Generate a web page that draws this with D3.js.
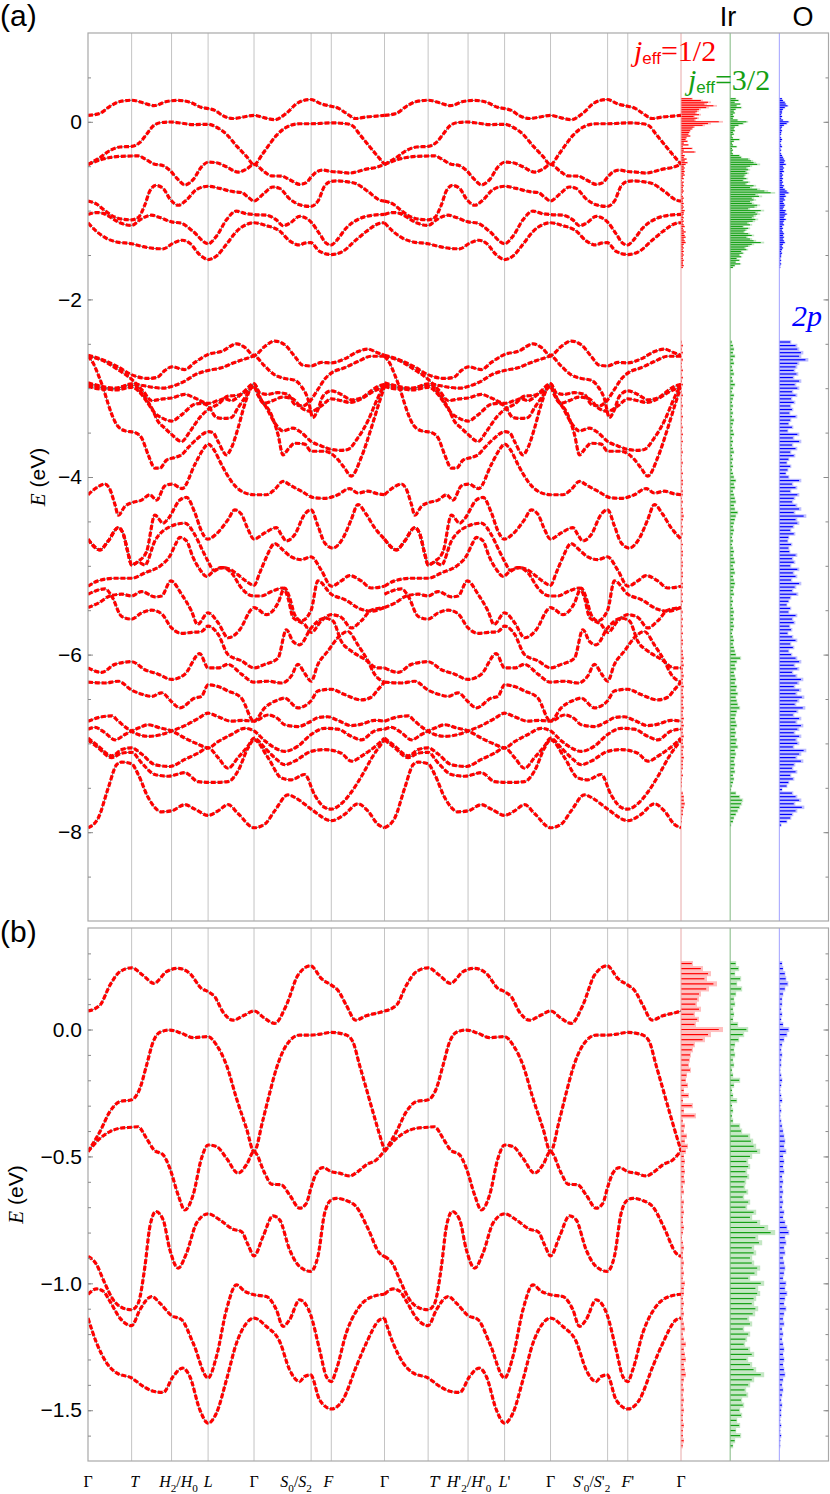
<!DOCTYPE html>
<html>
<head>
<meta charset="utf-8">
<script src="https://cdn.jsdelivr.net/npm/d3@7/dist/d3.min.js"></script>
<style>
  body { margin: 0; background: #fff; }
</style>
</head>
<body>
<script>
// k path Γ-T-H2/H0-L-Γ-S0/S2-F-Γ ; the primed half repeats the same bands
const halfPath = 297
const kPoints = [0, 43.7, 83.7, 120.3, 166.3, 223.5, 243.7, 297, 340.7, 380.7, 417.3, 463.3, 520.5, 540.7, 594]
const kLabels = [
  [['Γ', 'u']],
  [['T', 'i']],
  [['H', 'i'], ['2', 's'], ['/', 'u'], ['H', 'i'], ['0', 's']],
  [['L', 'i']],
  [['Γ', 'u']],
  [['S', 'i'], ['0', 's'], ['/', 'u'], ['S', 'i'], ['2', 's']],
  [['F', 'i']],
  [['Γ', 'u']],
  [['T', 'i'], ["'", 'u']],
  [['H', 'i'], ["'", 'u'], ['2', 's'], ['/', 'u'], ['H', 'i'], ["'", 'u'], ['0', 's']],
  [['L', 'i'], ["'", 'u']],
  [['Γ', 'u']],
  [['S', 'i'], ["'", 'u'], ['0', 's'], ['/', 'u'], ['S', 'i'], ["'", 'u'], ['2', 's']],
  [['F', 'i'], ["'", 'u']],
  [['Γ', 'u']]
]

// Ir t2g bands (first half of the path, k, E in eV)
const t2g1 = [[0,0.073],[12,0.096],[22,0.175],[32,0.228],[43.7,0.243],[55,0.214],[66,0.182],[78.7,0.228],[90,0.241],[102,0.221],[113.7,0.162],[120.3,0.149],[127,0.129],[135,0.070],[145,0.037],[157,0.057],[166.3,0.073],[177,0.044],[187,0.024],[198.7,0.096],[210.3,0.214],[223,0.251],[233.7,0.201],[243.7,0.175],[250.3,0.155],[258.7,0.096],[268,0.037],[278.7,0.054],[292,0.067],[297,0.073]]
const t2g2 = [[0,-0.481],[12,-0.402],[22,-0.323],[32,-0.284],[43.7,-0.277],[52,-0.232],[58.7,-0.14],[65.3,-0.048],[72,-0.011],[82,-0.002],[93.7,-0.015],[105.3,-0.032],[120.3,-0.028],[128.7,-0.061],[138.7,-0.14],[148.7,-0.271],[158.7,-0.389],[166.3,-0.481],[175,-0.36],[182,-0.25],[189,-0.15],[199,-0.06],[212,-0.022],[223,-0.022],[233,-0.018],[243.7,-0.011],[258.7,-0.022],[265.3,-0.048],[272,-0.14],[278.7,-0.232],[288,-0.36],[297,-0.478]]
const t2g3 = [[0,-0.481],[12,-0.429],[22,-0.402],[32,-0.389],[43.7,-0.385],[50,-0.383],[58.7,-0.429],[66,-0.474],[75.3,-0.494],[82,-0.547],[90.3,-0.652],[97,-0.711],[105.3,-0.652],[113.7,-0.507],[120.3,-0.455],[128.7,-0.461],[138.7,-0.507],[150.3,-0.566],[158.7,-0.533],[166.3,-0.481],[177,-0.566],[183.7,-0.609],[193.7,-0.612],[202,-0.652],[212,-0.704],[218.7,-0.685],[223.7,-0.619],[228.7,-0.566],[235.3,-0.544],[243.7,-0.56],[252,-0.566],[262,-0.577],[270.3,-0.56],[278.7,-0.533],[288.7,-0.514],[297,-0.478]]
const t2g4 = [[0,-0.894],[8.7,-0.927],[15.3,-0.986],[25.3,-1.065],[35.3,-1.098],[43.7,-1.104],[50.3,-1.078],[57,-0.934],[62,-0.776],[68,-0.717],[75.3,-0.75],[82,-0.868],[90.3,-0.94],[98.7,-0.881],[108.7,-0.763],[120.3,-0.726],[132,-0.75],[145.3,-0.787],[153.7,-0.796],[160.3,-0.848],[166.3,-0.892],[175.3,-0.816],[185.3,-0.734],[192,-0.75],[202,-0.868],[212,-0.934],[223,-0.953],[230.3,-0.894],[237,-0.724],[243.7,-0.671],[248.7,-0.665],[258.7,-0.674],[268.7,-0.698],[280.3,-0.783],[292,-0.881],[297,-0.894]]
const t2g5 = [[0,-1.043],[8.7,-1.022],[15.3,-1.031],[22,-1.071],[32,-1.137],[43.7,-1.167],[52,-1.104],[63.7,-1.052],[72,-1.078],[83.7,-1.127],[93.7,-1.143],[105.3,-1.235],[120.3,-1.373],[128.7,-1.288],[138.7,-1.104],[148.7,-1.006],[157,-1.031],[166.3,-1.045],[178.7,-1.052],[188.7,-1.104],[195.3,-1.170],[202,-1.143],[212,-1.065],[223,-1.124],[232,-1.262],[238.7,-1.367],[243.7,-1.387],[248.7,-1.341],[258.7,-1.196],[272,-1.091],[285.3,-1.052],[297,-1.043]]
const t2g6 = [[0,-1.137],[8.7,-1.236],[18.7,-1.314],[28.7,-1.353],[43.7,-1.373],[55.3,-1.406],[65.3,-1.425],[75.3,-1.43],[85.3,-1.367],[94.7,-1.334],[102,-1.367],[112,-1.498],[120.3,-1.551],[128.7,-1.511],[138.7,-1.38],[148.7,-1.236],[158.7,-1.157],[166.3,-1.137],[178.7,-1.17],[192,-1.229],[202,-1.341],[212,-1.387],[217,-1.367],[223,-1.361],[232,-1.459],[243.7,-1.495],[255.3,-1.459],[268.7,-1.328],[278.7,-1.236],[292,-1.144],[297,-1.137]]
const t2gBands = [t2g1, t2g2, t2g3, t2g4, t2g5, t2g6]

// O 2p bands (first half of the path)
const o2pBands = [
  [[0,-2.63],[17,-2.69],[30,-2.76],[44,-2.85],[60,-2.89],[69,-2.88],[77,-2.80],[84,-2.76],[97,-2.79],[107,-2.71],[120.3,-2.62],[134,-2.585],[149,-2.50],[157,-2.54],[166.3,-2.63],[177,-2.53],[187,-2.47],[197,-2.51],[207,-2.64],[215,-2.74],[223.5,-2.75],[234,-2.71],[243.7,-2.715],[257,-2.67],[270,-2.59],[280,-2.56],[290,-2.60],[297,-2.63]],
  [[0,-2.64],[5.3,-2.72],[10.3,-2.85],[15.3,-3.0],[20.3,-3.18],[24,-3.3],[28.7,-3.41],[37,-3.48],[47,-3.50],[53.7,-3.56],[60.3,-3.75],[67,-3.90],[72,-3.90],[78.7,-3.81],[87,-3.78],[93.7,-3.75],[100.3,-3.67],[110.3,-3.56],[120.3,-3.49],[125.3,-3.50],[130.3,-3.60],[138.7,-3.75],[143.7,-3.67],[150.3,-3.45],[157,-3.18],[166.3,-2.95],[173,-3.12],[183.7,-3.30],[190.3,-3.52],[195.3,-3.75],[201,-3.68],[207,-3.62],[217,-3.63],[223.5,-3.71],[237,-3.71],[250,-3.80],[257,-3.90],[263.7,-3.99],[273.7,-3.78],[283.7,-3.45],[292,-3.15],[297,-2.98]],
  [[0,-2.94],[10.3,-2.97],[27,-3.00],[40.3,-2.97],[47,-2.97],[52,-3.03],[58.7,-3.13],[63.7,-3.22],[70,-3.37],[77,-3.45],[83.7,-3.52],[93.7,-3.60],[102,-3.49],[112,-3.33],[120.3,-3.24],[130.3,-3.18],[140.3,-3.09],[150,-3.08],[158,-3.04],[166.3,-2.98],[170.3,-3.07],[178.7,-3.22],[187,-3.39],[195.3,-3.48],[205.3,-3.45],[213.7,-3.50],[223.5,-3.60],[233.7,-3.65],[243.7,-3.69],[253.7,-3.70],[260.3,-3.69],[270.3,-3.56],[280.3,-3.37],[288.7,-3.15],[297,-2.95]],
  [[0,-2.98],[13.7,-3.01],[30.3,-3.00],[43.7,-2.95],[55,-2.97],[65,-2.99],[75,-3.0],[83.7,-2.98],[97,-2.92],[107,-2.85],[120.3,-2.80],[133.7,-2.77],[147,-2.71],[160.3,-2.66],[166.3,-2.64],[177,-2.75],[187,-2.85],[197,-2.89],[207,-2.91],[213.7,-2.98],[220.3,-3.12],[225.3,-3.33],[230,-3.25],[235.3,-3.09],[243.7,-3.03],[253.7,-3.07],[263.7,-3.13],[273.7,-3.11],[283.7,-3.03],[290.3,-2.98],[297,-2.96]],
  [[0,-2.64],[17,-2.70],[30,-2.79],[43.7,-2.90],[55,-3.03],[64,-3.14],[75,-3.12],[83.7,-3.11],[97,-3.07],[107,-3.11],[120.3,-3.17],[130.3,-3.14],[137,-3.12],[143.7,-3.14],[150.3,-3.10],[157,-3.03],[166.3,-2.95],[172,-3.05],[180,-3.07],[190,-3.05],[200.3,-3.07],[207,-3.18],[215,-3.20],[222,-3.15],[230,-3.02],[237,-2.90],[243.7,-2.83],[257,-2.77],[270.3,-2.70],[283.7,-2.64],[297,-2.64]],
  [[0,-2.96],[12,-2.99],[28,-3.02],[43.7,-2.99],[53.7,-3.07],[60,-3.17],[67,-3.28],[75,-3.34],[83.7,-3.37],[93.7,-3.30],[107,-3.18],[113.7,-3.17],[120.3,-3.20],[128.7,-3.33],[137,-3.34],[143.7,-3.33],[150.3,-3.22],[157,-3.11],[166.3,-2.98],[170,-3.07],[176,-3.17],[185,-3.14],[195,-3.10],[205,-3.12],[213.7,-3.22],[223.5,-3.26],[233.7,-3.20],[243.7,-3.12],[253.7,-3.14],[262,-3.16],[273.7,-3.12],[283.7,-3.05],[297,-2.98]],
  [[0,-4.20],[8.7,-4.12],[17,-4.08],[22,-4.14],[27,-4.31],[30.3,-4.43],[37,-4.33],[43.7,-4.29],[53.7,-4.26],[62,-4.20],[68.7,-4.26],[77,-4.10],[84.3,-4.08],[94.3,-4.13],[107,-3.86],[115.3,-3.69],[120.3,-3.63],[127,-3.71],[133.7,-3.86],[143.7,-4.05],[153.7,-4.16],[166.3,-4.20],[178.7,-4.20],[187,-4.14],[195.3,-4.05],[203.7,-4.10],[213.7,-4.16],[227,-4.235],[237,-4.24],[250.3,-4.20],[262,-4.13],[270.3,-4.18],[280.3,-4.16],[290.3,-4.19],[297,-4.20]],
  [[0,-4.70],[12,-4.82],[20.3,-4.72],[30.3,-4.57],[35.3,-4.64],[40,-4.85],[43.7,-4.99],[50.3,-4.95],[58.7,-4.84],[67,-4.43],[75.3,-4.52],[80.3,-4.47],[92,-4.26],[98.7,-4.23],[107,-4.40],[113.7,-4.61],[119.7,-4.70],[128.7,-4.64],[140.3,-4.48],[147,-4.37],[153.7,-4.42],[160.3,-4.59],[166.3,-4.70],[177,-4.63],[188.7,-4.57],[193.7,-4.65],[198.7,-4.72],[207,-4.65],[217,-4.42],[223.5,-4.37],[230.3,-4.55],[237,-4.74],[245.3,-4.80],[255.3,-4.69],[263.7,-4.48],[270.3,-4.31],[278.7,-4.42],[287,-4.57],[297,-4.70]],
  [[0,-4.70],[12,-4.82],[20.3,-4.72],[30.3,-4.57],[35.3,-4.64],[40,-4.85],[43.7,-4.99],[50.3,-4.96],[57,-4.99],[67,-4.72],[80.3,-4.57],[97,-4.52],[107,-4.65],[115.3,-4.84],[120.3,-4.95],[126,-5.05],[133,-5.02],[140,-5.03],[150,-5.10],[158,-5.17],[166.3,-5.22],[172,-5.08],[178,-4.92],[187,-4.75],[195,-4.82],[203.7,-4.90],[213.7,-4.93],[223.5,-4.90],[233.7,-5.05],[243.7,-5.23],[253.7,-5.17],[262,-5.11],[273.7,-5.17],[283.7,-5.25],[297,-5.23]],
  [[0,-5.23],[10,-5.17],[27,-5.14],[43.7,-5.14],[57,-5.08],[73.7,-4.99],[82,-4.89],[88,-4.75],[92,-4.68],[98.7,-4.72],[105,-4.90],[112,-5.04],[118.7,-5.12],[125,-5.07],[135.3,-5.02],[143.7,-5.08],[153.7,-5.25],[160.3,-5.32],[166.3,-5.34],[173.7,-5.34],[183.7,-5.29],[195.3,-5.25],[200.3,-5.36],[205.3,-5.58],[210.3,-5.62],[217,-5.66],[223.5,-5.75],[233.7,-5.62],[243.7,-5.55],[253.7,-5.58],[263.7,-5.70],[273.7,-5.62],[283.7,-5.50],[297,-5.47]],
  [[0,-5.47],[10.3,-5.42],[22,-5.34],[33.7,-5.32],[43.7,-5.34],[53.7,-5.29],[67,-5.35],[73.7,-5.34],[83,-5.17],[93.7,-5.32],[103.7,-5.51],[109.7,-5.66],[120.3,-5.53],[130.3,-5.64],[140.3,-5.81],[152,-5.72],[163.7,-5.49],[166.3,-5.47],[170.3,-5.49],[178.7,-5.55],[190.3,-5.42],[197,-5.25],[202,-5.36],[207,-5.55],[213.7,-5.62],[223.5,-5.50],[230.3,-5.17],[243.7,-5.32],[257,-5.38],[273.7,-5.49],[283.7,-5.51],[297,-5.47]],
  [[0,-5.32],[17,-5.26],[23.7,-5.34],[33.7,-5.57],[43.7,-5.60],[53.7,-5.53],[63.7,-5.50],[73.7,-5.54],[83.7,-5.70],[93.7,-5.76],[103.7,-5.75],[113.7,-5.74],[120.3,-5.68],[130.3,-5.77],[140.3,-6.00],[153.7,-6.07],[166.3,-6.15],[177,-6.11],[190.3,-6.04],[198.7,-5.72],[205.3,-5.85],[212,-5.89],[223.5,-5.70],[237,-5.59],[245.3,-5.62],[253.7,-5.85],[263.7,-5.96],[277,-6.05],[290.3,-6.15],[297,-6.15]],
  [[0,-6.15],[13.7,-6.20],[27,-6.11],[43.7,-6.08],[57,-6.17],[70.3,-6.22],[83.7,-6.28],[97,-6.22],[112,-5.99],[120.3,-6.15],[130.3,-6.15],[140.3,-6.11],[153.7,-6.22],[166.3,-6.31],[180.3,-6.30],[193.7,-6.32],[203.7,-6.24],[210.3,-6.11],[217,-6.21],[223.5,-6.30],[230.3,-6.11],[240.3,-5.96],[250.3,-5.81],[260.3,-5.74],[270.3,-5.89],[280.3,-6.07],[287,-6.22],[297,-6.31]],
  [[0,-6.31],[17,-6.32],[30.3,-6.30],[43.7,-6.40],[55,-6.45],[63.7,-6.47],[73.7,-6.43],[83.7,-6.53],[92,-6.60],[107,-6.49],[113.7,-6.47],[120.3,-6.34],[130.3,-6.36],[140.3,-6.41],[153.7,-6.49],[166.3,-6.75],[177,-6.60],[190.3,-6.51],[197,-6.49],[210.3,-6.60],[223.5,-6.52],[230.3,-6.41],[243.7,-6.39],[257,-6.45],[273.7,-6.51],[283.7,-6.48],[290,-6.40],[297,-6.31]],
  [[0,-6.75],[10.3,-6.71],[23.7,-6.69],[30.3,-6.75],[40.3,-6.84],[50.3,-6.90],[60.3,-6.92],[73.7,-6.90],[83.7,-6.86],[97,-6.80],[110.3,-6.72],[120.3,-6.66],[130.3,-6.70],[143.7,-6.75],[155,-6.74],[166.3,-6.75],[180.3,-6.68],[190,-6.72],[197,-6.79],[210.3,-6.81],[223.5,-6.75],[230.3,-6.71],[240,-6.70],[250.3,-6.74],[263.7,-6.80],[275,-6.78],[287,-6.74],[297,-6.75]],
  [[0,-6.84],[7,-6.82],[17,-6.88],[27,-6.96],[37,-6.90],[43.7,-6.86],[52,-6.82],[60.3,-6.79],[70.3,-6.82],[83.7,-6.86],[97,-6.94],[110.3,-7.01],[120.3,-7.05],[130.3,-6.98],[143.7,-6.90],[157,-6.83],[166.3,-6.86],[177,-6.97],[187,-7.05],[197,-7.09],[210.3,-7.03],[223.5,-6.90],[237,-6.83],[250.3,-6.84],[263.7,-6.92],[273.7,-6.96],[287,-6.86],[297,-6.84]],
  [[0,-6.94],[10.3,-7.03],[23.7,-7.14],[33.7,-7.07],[43.7,-7.05],[53.7,-7.12],[67,-7.24],[82,-7.26],[97,-7.18],[110.3,-7.11],[120.3,-7.05],[130.3,-7.16],[140.3,-7.28],[150.3,-7.16],[160.3,-7.03],[166.3,-6.94],[177,-7.05],[187,-7.16],[197,-7.24],[207,-7.20],[223.5,-7.09],[237,-7.07],[253.7,-7.11],[263.7,-7.20],[277,-7.12],[290.3,-7.01],[297,-6.94]],
  [[0,-6.96],[10.3,-7.05],[23.7,-7.16],[33.7,-7.11],[43.7,-7.10],[53.7,-7.22],[67,-7.35],[80.3,-7.37],[97,-7.33],[110.3,-7.43],[123.7,-7.44],[140.3,-7.43],[150.3,-7.31],[160.3,-7.05],[166.3,-6.96],[180.3,-7.16],[193.7,-7.39],[203.7,-7.41],[217,-7.35],[227,-7.58],[237,-7.72],[243.7,-7.74],[253.7,-7.68],[263.7,-7.55],[275,-7.35],[285,-7.15],[297,-6.96]],
  [[0,-7.95],[10.3,-7.84],[20.3,-7.50],[28.7,-7.24],[33.7,-7.21],[43.7,-7.23],[50.3,-7.35],[60.3,-7.61],[73.7,-7.77],[83.7,-7.76],[97,-7.69],[107,-7.74],[120.3,-7.81],[130.3,-7.76],[140.3,-7.69],[150.3,-7.79],[166.3,-7.95],[177,-7.91],[187,-7.76],[200.3,-7.58],[210.3,-7.63],[223.5,-7.74],[243.7,-7.87],[257,-7.80],[270.3,-7.68],[280.3,-7.76],[290.3,-7.91],[297,-7.95]]
]

// projected DOS, t2g window: bins from 0.28 eV downwards, 0.02 eV apart
const dosT2gTop = 0.28
const dosT2gStep = 0.02
const dosJHalfT2g = [0,12,22,30,26,36,28,20,18,16, 20,14,18,15,42,30,24,14,12,10, 9,8,10,6,5,7,3,8,2,12, 3,15,2,4,3,6,4,7,5,3, 4,3,4,3,4,2,3,1,3,2, 3,2,2,3,2,1,2,3,2,2, 3,2,3,2,4,3,3,2,3,2, 3,2,3,4,2,3,5,3,4,5, 3,4,5,3,2,3,2,3,2,3, 2,2,3,2,2,3,2,0]
const dosJ32T2g = [0,6,9,5,11,7,12,6,4,5, 3,4,3,8,18,14,9,5,4,5, 3,4,2,3,10,4,2,3,7,2, 3,2,3,10,12,20,23,26,30,22, 18,20,17,19,16,15,18,14,20,17, 26,22,30,38,45,28,32,24,26,22, 24,30,27,20,34,28,30,26,24,28, 25,19,22,14,20,17,15,20,24,18, 22,26,34,24,20,16,18,12,14,10, 12,7,10,6,11,5,3,0]
const dosO2pT2g = [0,3,4,6,7,9,6,4,3,3, 2,3,2,4,10,8,5,3,2,3, 2,2,1,2,3,2,1,2,3,1, 2,1,2,3,4,5,6,5,7,4, 5,4,5,3,4,3,4,3,4,3, 5,4,6,8,10,6,7,5,6,4, 5,6,5,4,7,6,8,6,5,7, 5,4,5,3,4,3,4,5,4,5, 4,5,6,4,3,4,3,2,3,2, 2,1,2,1,2,1,1,0]

// projected DOS, O 2p window: bins from -2.44 eV downwards, 0.04 eV apart
const dosO2pTop = -2.44
const dosO2pStep = 0.04
const dosJHalfO = [0, 1,2,1,2,1,2,1,1,2,1,2,1,2,1,1,2,1,1,2,1, 1,2,1,1,2,1,2,1,2,1, 1,2,1,1,2,1,1,2,1,2, 2,1,2,2,1,2,1,2,2,3, 2,1,2,1,2,1,1,2,1,2, 2,1,2,2,1,2,2,1,2,2, 1,2,1,2,1,1,2,1,2,1, 2,1,2,1,2,2,1,2,2,3, 2,3,2,2,3,2,2,3,2,2, 3,2,2,3,2,2,3,2,3,2, 2,3,2,2,3,2,2,3,2,2, 2,1,2,1,1,1,0,2,3,3, 4,3,2,2,1,1,0,0]
const dosJ32O = [0, 2,3,4,3,5,3,4,2,3,4,2,3,5,3,2,4,3,2,3,2, 3,2,4,3,2,3,4,2,3,2, 3,4,2,3,2,3,2,3,4,6, 4,5,3,4,5,6,4,5,8,6, 5,4,3,4,3,2,3,2,3,4, 3,4,5,3,4,5,3,4,5,4, 3,4,2,3,2,3,4,3,4,3, 4,3,2,3,4,3,4,5,6,11, 7,5,6,4,5,6,5,7,6,8, 6,7,8,10,7,6,5,6,7,5, 6,5,7,6,8,5,6,5,4,5, 4,5,3,4,3,2,1,6,10,13, 12,10,8,6,4,3,1,0]
const dosO2pO = [0, 12,18,20,24,22,29,20,18,16,19,15,22,17,20,14,18,13,16,12,14, 11,18,12,10,14,9,20,15,22,14, 18,12,16,10,8,12,9,7,10,22, 14,18,12,20,16,14,18,22,16,27, 18,20,15,12,16,10,9,13,10,11, 18,14,16,12,20,15,18,13,22,17, 14,19,12,10,8,12,10,18,14,16, 11,13,9,14,18,12,15,10,13,18, 22,16,20,14,18,24,20,16,22,18, 25,20,17,26,19,15,22,18,24,20, 16,22,18,20,15,27,22,18,24,16, 14,18,12,15,10,8,3,14,18,22, 16,25,18,14,12,8,2,0]

const red = '#ff0000'
const green = '#14a014'
const blue = '#0000ff'
const sans = "'Liberation Sans', Arial, sans-serif"
const serif = "'Liberation Serif', 'Times New Roman', serif"

const svg = d3.select('body')
  .append('svg')
  .attr('width', 830)
  .attr('height', 1494)
  .attr('font-family', sans)

const xK = d3.scaleLinear().domain([0, 2 * halfPath]).range([88, 681])
const dosCol = d3.scaleLinear().domain([0, 3]).range([681, 828.5])
const dosW = d3.scaleLinear().domain([0, 49]).range([0, 49])

const panels = [
  { id: 'a', name: '(a)', nameY: 26, top: 33, bottom: 921, domain: [-9, 1], minor: 0.5,
    major: [-8, -6, -4, -2, 0], fmt: d3.format('d'), titleX: 38,
    bands: t2gBands.concat(o2pBands), withO: true },
  { id: 'b', name: '(b)', nameY: 942, top: 928, bottom: 1461, domain: [-1.7, 0.4], minor: 0.1,
    major: [-1.5, -1, -0.5, 0], fmt: d3.format('.1f'), titleX: 16,
    bands: t2gBands, withO: false }
]

function drawDos(g, y, vals, eTop, step, col, color) {
  const base = dosCol(col)
  const h = Math.abs(y(0) - y(step))
  const bins = vals.map((v, i) => ({ e: eTop - i * step, v })).filter(b => b.v > 0)
  g.selectAll(null)
    .data(bins)
    .join('rect')
    .attr('x', base)
    .attr('y', b => y(b.e) - h / 2)
    .attr('width', b => dosW(b.v))
    .attr('height', h)
    .attr('fill', color)
    .attr('fill-opacity', 0.25)
  g.selectAll(null)
    .data(bins)
    .join('line')
    .attr('x1', base)
    .attr('x2', b => base + dosW(b.v) * 0.9)
    .attr('y1', b => y(b.e))
    .attr('y2', b => y(b.e))
    .attr('stroke', color)
    .attr('stroke-width', Math.min(1.2, h * 0.6))
}

panels.forEach(p => {
  const y = d3.scaleLinear().domain(p.domain).range([p.bottom, p.top])
  const g = svg.append('g')

  g.append('clipPath')
    .attr('id', 'clip-' + p.id)
    .append('rect')
    .attr('x', 88)
    .attr('y', p.top)
    .attr('width', 593)
    .attr('height', p.bottom - p.top)

  // high-symmetry grid lines
  g.selectAll(null)
    .data(kPoints.slice(1, -1))
    .join('line')
    .attr('x1', d => xK(d))
    .attr('x2', d => xK(d))
    .attr('y1', p.top)
    .attr('y2', p.bottom)
    .attr('stroke', '#c4c4c4')
    .attr('stroke-width', 1)

  // DOS columns
  const dg = g.append('g')
  drawDos(dg, y, dosJHalfT2g, dosT2gTop, dosT2gStep, 0, red)
  drawDos(dg, y, dosJ32T2g, dosT2gTop, dosT2gStep, 1, green)
  drawDos(dg, y, dosO2pT2g, dosT2gTop, dosT2gStep, 2, blue)
  if (p.withO) {
    drawDos(dg, y, dosJHalfO, dosO2pTop, dosO2pStep, 0, red)
    drawDos(dg, y, dosJ32O, dosO2pTop, dosO2pStep, 1, green)
    drawDos(dg, y, dosO2pO, dosO2pTop, dosO2pStep, 2, blue)
  }
  g.selectAll(null)
    .data([['#e8a8a8', 0], ['#80b880', 1], ['#a0a0ff', 2]])
    .join('line')
    .attr('x1', d => dosCol(d[1]))
    .attr('x2', d => dosCol(d[1]))
    .attr('y1', p.top)
    .attr('y2', p.bottom)
    .attr('stroke', d => d[0])
    .attr('stroke-width', 1)

  // bands: first half and its primed copy
  const bg = g.append('g').attr('clip-path', `url(#clip-${p.id})`)
  ;[0, halfPath].forEach(off => {
    const line = d3.line()
      .x(d => xK(d[0] + off))
      .y(d => y(d[1]))
      .curve(d3.curveMonotoneX)
    p.bands.forEach(b => {
      bg.append('path')
        .attr('d', line(b))
        .attr('fill', 'none')
        .attr('stroke', '#5a5a5a')
        .attr('stroke-width', 0.9)
      bg.append('path')
        .attr('d', line(b))
        .attr('fill', 'none')
        .attr('stroke', red)
        .attr('stroke-width', 3.2)
        .attr('stroke-dasharray', '5,1.8')
    })
  })

  // frame
  g.append('rect')
    .attr('x', 88)
    .attr('y', p.top)
    .attr('width', 740.5)
    .attr('height', p.bottom - p.top)
    .attr('fill', 'none')
    .attr('stroke', '#a8a8a8')
    .attr('stroke-width', 1.2)

  // axes
  const n0 = Math.round(p.domain[0] / p.minor)
  const n1 = Math.round(p.domain[1] / p.minor)
  const minorVals = d3.range(n0 + 1, n1).map(i => +(i * p.minor).toFixed(2))
  const axes = [
    [88, d3.axisLeft(y).tickValues(minorVals).tickSize(-3).tickFormat('')],
    [88, d3.axisLeft(y).tickValues(p.major).tickSize(-5).tickPadding(6).tickFormat(p.fmt)],
    [828.5, d3.axisRight(y).tickValues(minorVals).tickSize(-3).tickFormat('')],
    [828.5, d3.axisRight(y).tickValues(p.major).tickSize(-5).tickFormat('')]
  ]
  axes.forEach(([x, ax]) => {
    const a = g.append('g').attr('transform', `translate(${x},0)`).call(ax)
    a.select('.domain').remove()
    a.selectAll('.tick line').attr('stroke', '#8a8a8a')
    a.selectAll('.tick text')
      .attr('font-size', 21)
      .attr('fill', '#000')
      .attr('font-family', sans)
  })

  // axis title
  const t = g.append('text')
    .attr('transform', `translate(${p.titleX},${(p.top + p.bottom) / 2}) rotate(-90)`)
    .attr('text-anchor', 'middle')
    .attr('dy', '0.35em')
    .attr('font-size', 21)
  t.append('tspan')
    .attr('font-family', serif)
    .attr('font-style', 'italic')
    .text('E')
  t.append('tspan').text(' (eV)')

  g.append('text')
    .attr('x', 0)
    .attr('y', p.nameY)
    .attr('font-size', 30)
    .text(p.name)
})

// k-point labels under panel (b)
const kLabelShift = [0, 3, 7, 0, 0, -15, -3, 0, 7, 1, 0, 0, -16, 0, 0]
function richText(sel, pieces, size) {
  let shift = 0
  pieces.forEach(([txt, s]) => {
    const sub = s === 's'
    const target = sub ? size * 0.3 : 0
    sel.append('tspan')
      .attr('dy', target - shift)
      .attr('font-size', sub ? size * 0.7 : size)
      .attr('font-style', s === 'i' ? 'italic' : 'normal')
      .text(txt)
    shift = target
  })
}
kLabels.forEach((pieces, i) => {
  const t = svg.append('text')
    .attr('x', xK(kPoints[i]) + kLabelShift[i])
    .attr('y', 1487)
    .attr('text-anchor', 'middle')
    .attr('font-family', serif)
  richText(t, pieces, 16)
})

// column labels
function jLabel(x, y, frac, color) {
  const t = svg.append('text').attr('x', x).attr('y', y).attr('fill', color).attr('font-size', 30)
  t.append('tspan').attr('font-family', serif).attr('font-style', 'italic').text('j')
  t.append('tspan').attr('font-family', sans).attr('font-size', 17).attr('dy', 3).text('eff')
  t.append('tspan').attr('font-family', serif).attr('dy', -3).text('=' + frac)
}
jLabel(634, 61, '1/2', red)
jLabel(688, 90, '3/2', green)

svg.append('text').attr('x', 728).attr('y', 26).attr('text-anchor', 'middle').attr('font-size', 27).text('Ir')
svg.append('text').attr('x', 803).attr('y', 26).attr('text-anchor', 'middle').attr('font-size', 27).text('O')
svg.append('text')
  .attr('x', 792)
  .attr('y', 326)
  .attr('font-size', 30)
  .attr('font-family', serif)
  .attr('font-style', 'italic')
  .attr('fill', blue)
  .text('2p')
</script>
</body>
</html>
